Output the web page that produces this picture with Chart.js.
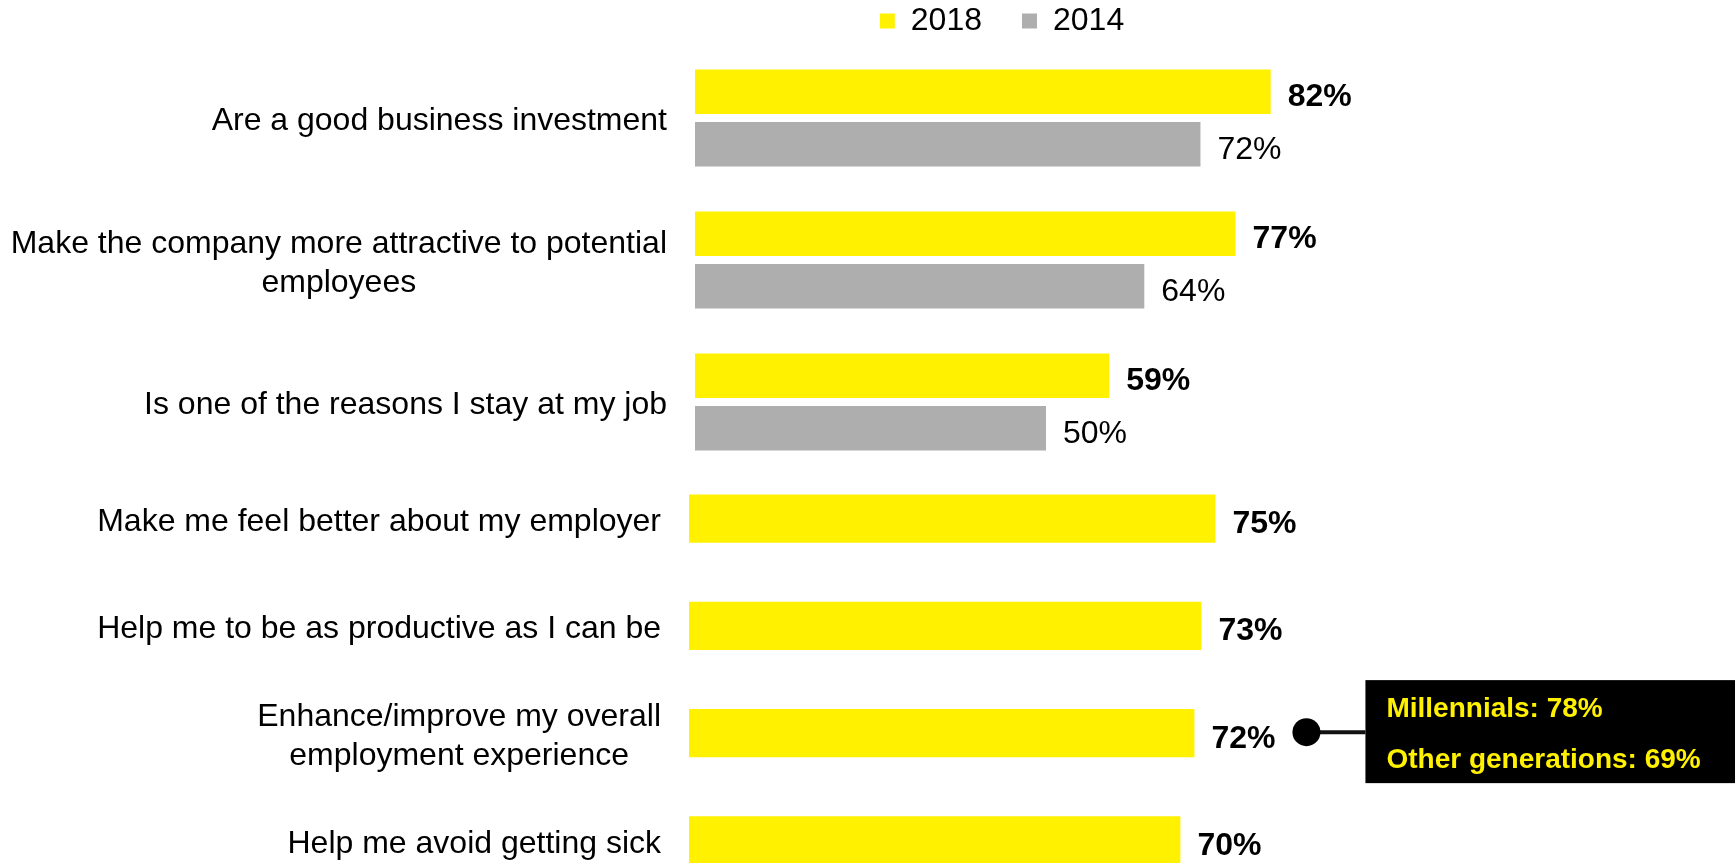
<!DOCTYPE html>
<html>
<head>
<meta charset="utf-8">
<title>Wellness programs</title>
<script src="https://cdn.jsdelivr.net/npm/chart.js@4/dist/chart.umd.min.js"></script>
<style>
  html, body { margin: 0; padding: 0; background: #fff; overflow: hidden; }
  #wrap { position: relative; width: 1735px; height: 863px; overflow: hidden; }
  #wrap canvas { position: absolute; left: 0; }
  #chart-top { top: 0; }
  #chart-bottom { top: 465px; }
</style>
</head>
<body>
<div id="wrap">
  <canvas id="chart-top" width="1735" height="473"></canvas>
  <canvas id="chart-bottom" width="1735" height="429"></canvas>
</div>
<script>
// statements asked in both years
var topCategories = [
  'Are a good business investment',
  ['Make the company more attractive to potential', 'employees'],
  'Is one of the reasons I stay at my job'
];
var top2018 = [82, 77, 59];
var top2014 = [72, 64, 50];

// statements asked only in 2018
var bottomCategories = [
  'Make me feel better about my employer',
  'Help me to be as productive as I can be',
  ['Enhance/improve my overall', 'employment experience'],
  'Help me avoid getting sick'
];
var bottom2018 = [75, 73, 72, 70];

// generation split for "Enhance/improve..."
var calloutIndex = 2;
var calloutLines = ['Millennials: 78%', 'Other generations: 69%'];

var YELLOW = '#FFF100';
var GRAY = '#AEAEAE';
var FONT = '"Liberation Sans", Arial, Helvetica, sans-serif';

Chart.defaults.font.family = FONT;
Chart.defaults.color = '#000';

// category text left of the bars + value text right of each bar
var sideLabels = {
  id: 'sideLabels',
  afterDatasetsDraw: function(chart) {
    var ctx = chart.ctx;
    var area = chart.chartArea;
    var yScale = chart.scales.y;
    ctx.save();
    ctx.fillStyle = '#000';

    ctx.textBaseline = 'middle';
    ctx.font = '32px ' + FONT;
    ctx.textAlign = 'center';
    chart.data.labels.forEach(function(lab, i) {
      var lines = [].concat(lab);
      var w = Math.max.apply(null, lines.map(function(l){ return ctx.measureText(l).width; }));
      var cx = area.left - 28 - w / 2;
      var cy = yScale.getPixelForValue(i) + 3.5;
      lines.forEach(function(l, k) {
        ctx.fillText(l, cx, cy + (k - (lines.length - 1) / 2) * 38.5);
      });
    });

    // digits sit on the baseline, cap height ~23px
    ctx.textAlign = 'left';
    ctx.textBaseline = 'alphabetic';
    chart.data.datasets.forEach(function(ds, d) {
      var meta = chart.getDatasetMeta(d);
      ctx.font = (ds.label === '2018' ? 'bold ' : '') + '32px ' + FONT;
      meta.data.forEach(function(bar, i) {
        ctx.fillText(ds.data[i] + '%', bar.x + 17, bar.y + 14.5);
      });
    });
    ctx.restore();
  }
};

// black note box hooked to one bar
var callout = {
  id: 'callout',
  afterDatasetsDraw: function(chart, args, opts) {
    if (!opts.lines) return;
    var ctx = chart.ctx;
    var bar = chart.getDatasetMeta(0).data[opts.index];
    var dotX = bar.x + 112;
    var dotY = bar.y - 1;
    var boxX = dotX + 59;
    ctx.save();
    ctx.strokeStyle = '#111';
    ctx.lineWidth = 4;
    ctx.beginPath();
    ctx.moveTo(dotX, dotY);
    ctx.lineTo(boxX, dotY);
    ctx.stroke();
    ctx.fillStyle = '#000';
    ctx.beginPath();
    ctx.arc(dotX, dotY, 14, 0, Math.PI * 2);
    ctx.fill();
    ctx.fillRect(boxX, dotY - 52, chart.width - boxX, 103);
    ctx.fillStyle = YELLOW;
    ctx.font = 'bold 28px ' + FONT;
    ctx.textAlign = 'left';
    ctx.textBaseline = 'middle';
    ctx.fillText(opts.lines[0], boxX + 21, dotY - 23);
    ctx.fillText(opts.lines[1], boxX + 21, dotY + 28);
    ctx.restore();
  }
};

var topChart = new Chart(document.getElementById('chart-top'), {
  type: 'bar',
  data: {
    labels: topCategories,
    datasets: [
      { label: '2018', data: top2018, backgroundColor: YELLOW, borderWidth: 0,
        categoryPercentage: 0.74, barPercentage: 0.85 },
      { label: '2014', data: top2014, backgroundColor: GRAY, borderWidth: 0,
        categoryPercentage: 0.74, barPercentage: 0.85 }
    ]
  },
  options: {
    indexAxis: 'y',
    responsive: false,
    animation: false,
    events: [],
    layout: { padding: { left: 695, right: 426, top: -35, bottom: 0 } },
    scales: {
      x: { display: false, min: 0, max: 87.46 },
      y: { display: false }
    },
    plugins: {
      tooltip: { enabled: false },
      legend: {
        position: 'top',
        labels: {
          boxWidth: 15,
          boxHeight: 15,
          padding: 40,
          color: '#000',
          font: { size: 32 }
        }
      }
    }
  },
  plugins: [sideLabels]
});

var bottomChart = new Chart(document.getElementById('chart-bottom'), {
  type: 'bar',
  data: {
    labels: bottomCategories,
    datasets: [
      { label: '2018', data: bottom2018, backgroundColor: YELLOW, borderWidth: 0,
        categoryPercentage: 1, barPercentage: 0.45 }
    ]
  },
  options: {
    indexAxis: 'y',
    responsive: false,
    animation: false,
    events: [],
    layout: { padding: { left: 689, right: 344, top: 0, bottom: 0 } },
    scales: {
      x: { display: false, min: 0, max: 100 },
      y: { display: false }
    },
    plugins: {
      tooltip: { enabled: false },
      legend: { display: false },
      callout: { index: calloutIndex, lines: calloutLines }
    }
  },
  plugins: [sideLabels, callout]
});
</script>
</body>
</html>
